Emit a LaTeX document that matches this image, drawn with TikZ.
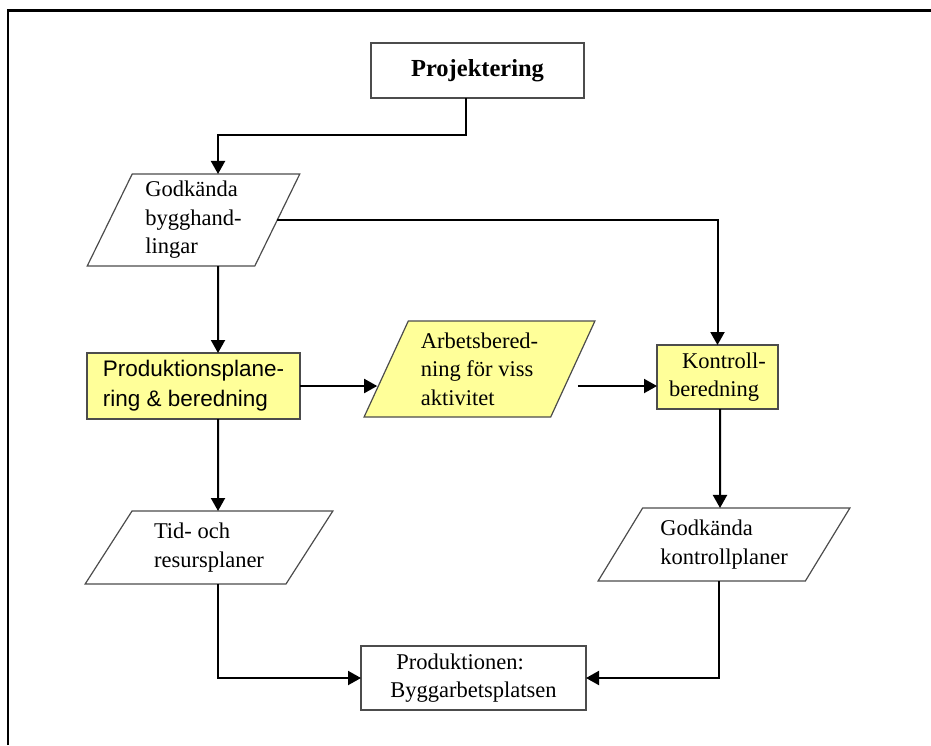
\documentclass[tikz,border=0pt]{standalone}
\usepackage{fontspec}
\setmainfont{Liberation Serif}
\setsansfont{Liberation Sans}
\usetikzlibrary{shapes.geometric,arrows.meta,calc}

\definecolor{planyellow}{RGB}{255,255,153}

\tikzset{
	box/.style={draw=black!70, line width=1.2pt, inner sep=0pt, outer sep=0pt},
	doc/.style 2 args={box, trapezium, trapezium stretches=true,
		trapezium left angle=#1, trapezium right angle=#2},
	txt/.style={font=\fontsize{22.5}{28.5}\selectfont, align=left},
	flow/.style={line width=2pt, -{Triangle[length=13pt,width=14pt]}}
}

\begin{document}
\begin{tikzpicture}[x=1pt, y=-1pt]
		\useasboundingbox (0,0) rectangle (931,745);
		\draw[line width=2.5pt] (8,745) -- (8,10.5) -- (931,10.5);

		\node[box, minimum width=213, minimum height=55, font=\bfseries\fontsize{24.5}{29}\selectfont] (proj) at (477.5,70.5) {Projektering};
		\node[doc={65.5}{114.5}, txt, minimum width=213, minimum height=92] (godk) at (193.5,220) {Godkända\\bygghand-\\lingar};
		\node[box, fill=planyellow, txt, font=\sffamily\fontsize{22.5}{30}\selectfont, minimum width=213, minimum height=66] (prod) at (193.5,386) {Produktionsplane-\\ring \& beredning};
		\node[doc={63.4}{116.6}, fill=planyellow, txt, minimum width=231, minimum height=96] (arb) at (479.5,369) {Arbetsbered-\\ning för viss\\aktivitet};
		\node[box, fill=planyellow, txt, minimum width=121, minimum height=64] (kontr) at (717.5,377) {\hspace*{13pt}Kontroll-\\beredning};
		\node[doc={55.6}{124.4}, txt, minimum width=248, minimum height=73] (tid) at (209,547.5) {Tid- och\\resursplaner};
		\node[doc={54.5}{125.5}, txt, minimum width=252, minimum height=73] (kplan) at (724,544.5) {Godkända\\kontrollplaner};
		\node[box, txt, minimum width=225, minimum height=64] (prodn) at (473.5,678) {\hspace*{6pt}Produktionen:\\Byggarbetsplatsen};

		\draw[flow] ($(proj.south)+(-11.5,0)$) -- ++(0,37) -| ($(godk.north)+(24.5,0)$);
		\draw[flow] (godk.east) -| (kontr.north);
		\draw[flow] ($(godk.south)+(24.5,0)$) -- ($(prod.north)+(24.5,0)$);
		\draw[flow] (prod.east) -- ($(prod.east -| arb.west)+(-9,0)$);
		\draw[flow] ($(arb.east |- prod.east)+(5,0)$) -- (kontr.west |- prod.east);
		\draw[flow] ($(kontr.south)+(2.5,0)$) -- ($(kplan.north)+(-4,0)$);
		\draw[flow] ($(prod.south)+(24.5,0)$) -- ($(tid.north)+(9,0)$);
		\draw[flow] ($(tid.south)+(9,0)$) |- (prodn.west);
		\draw[flow] ($(kplan.south)+(-5,0)$) |- (prodn.east);
	\end{tikzpicture}
\end{document}
